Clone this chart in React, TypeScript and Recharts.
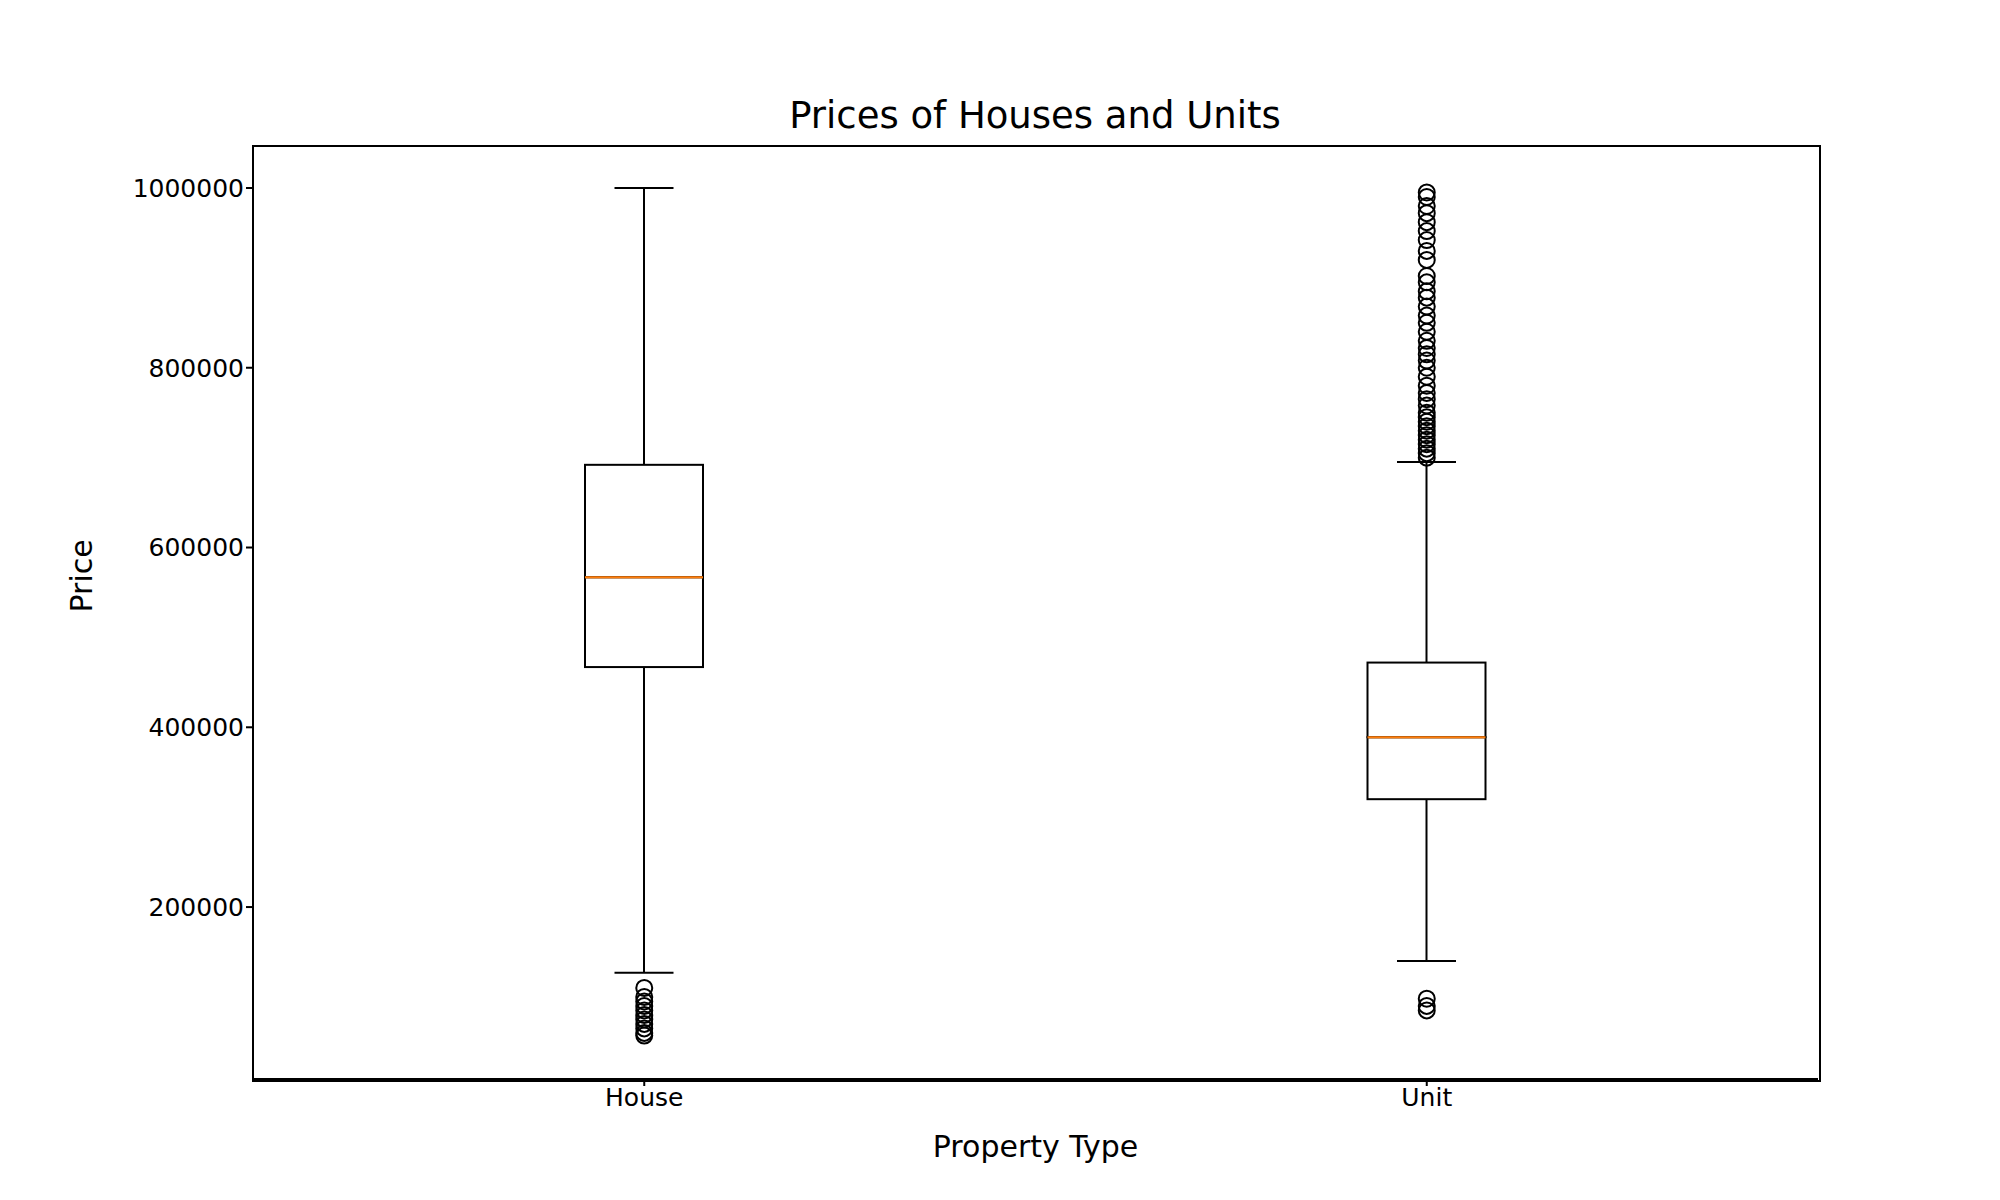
import React from 'react';
import { ComposedChart, Bar, Scatter, XAxis, YAxis } from 'recharts';

const categories = ['House', 'Unit'];
const whiskerLow = [127000, 140000];
const q1 = [467000, 320000];
const median = [567000, 389000];
const q3 = [692000, 472000];
const whiskerHigh = [1000000, 695000];

const houseOutliers = [110000, 100000, 95000, 90000, 85000, 80000, 75000, 70000, 65000, 60000, 57000];
const unitOutliers = [
  98000, 90000, 85000,
  700000, 705000, 710000, 715000, 720000, 725000, 730000, 735000, 740000, 745000, 750000, 758000,
  765000, 772000, 780000, 790000, 800000, 808000, 815000, 822000, 830000, 840000, 850000, 858000,
  868000, 878000, 885000, 895000, 902000, 920000, 930000, 942000, 952000, 962000, 972000, 980000,
  990000, 995000,
];
const yTicks = [200000, 400000, 600000, 800000, 1000000];

const boxData = categories.map((name, i) => ({
  name,
  base: whiskerLow[i],
  lowW: q1[i] - whiskerLow[i],
  boxLow: median[i] - q1[i],
  boxHigh: q3[i] - median[i],
  highW: whiskerHigh[i] - q3[i],
}));

const outlierData = [
  ...houseOutliers.map((price) => ({ name: 'House', price })),
  ...unitOutliers.map((price) => ({ name: 'Unit', price })),
];

const font = 'DejaVu Sans, sans-serif';

const Whisker = (cap: 'top' | 'bottom') => (props: any) => {
  const { x, y, width, height } = props;
  const cx = x + width / 2;
  const capY = cap === 'top' ? y : y + height;
  return (
    <g>
      <line x1={cx} x2={cx} y1={y} y2={y + height} stroke="#000" strokeWidth={2} />
      <line x1={cx - width / 4} x2={cx + width / 4} y1={capY} y2={capY} stroke="#000" strokeWidth={2} />
    </g>
  );
};

const BoxPart = (medianAt: 'top' | 'bottom') => (props: any) => {
  const { x, y, width, height } = props;
  const my = medianAt === 'top' ? y : y + height;
  return (
    <g>
      <rect x={x} y={y} width={width} height={height} fill="none" stroke="#000" strokeWidth={2} />
      <line x1={x} x2={x + width} y1={my} y2={my} stroke="#ff7f0e" strokeWidth={2} />
    </g>
  );
};

const Outlier = (props: any) => (
  <circle cx={props.cx} cy={props.cy} r={8} fill="none" stroke="#000" strokeWidth={2} />
);

export default function App() {
  return (
    <div style={{ position: 'absolute', left: 0, top: 0, width: 2000, height: 1200, background: '#fff', fontFamily: font }}>
      <div style={{ position: 'absolute', top: 94, width: 2070, textAlign: 'center', fontSize: 37 }}>
        Prices of Houses and Units
      </div>
      <ComposedChart
        width={2000}
        height={1200}
        data={boxData}
        margin={{ top: 146, right: 182, bottom: 81, left: 133 }}
      >
        <XAxis
          dataKey="name"
          type="category"
          allowDuplicatedCategory={false}
          stroke="#000"
          strokeWidth={2}
          tickSize={7}
          height={40}
          tick={{ fill: '#000', fontSize: 25, fontFamily: font }}
          label={{ value: 'Property Type', position: 'insideBottom', offset: -38, fill: '#000', fontSize: 30, fontFamily: font }}
        />
        <YAxis
          type="number"
          domain={[8700, 1046700]}
          ticks={yTicks}
          allowDataOverflow
          stroke="#000"
          strokeWidth={2}
          tickSize={7}
          width={120}
          tick={{ fill: '#000', fontSize: 25, fontFamily: font }}
          label={{ value: 'Price', angle: -90, position: 'insideLeft', offset: -52, fill: '#000', fontSize: 30, fontFamily: font }}
        />
        <Bar dataKey="base" stackId="b" fill="none" barSize={118} isAnimationActive={false} />
        <Bar dataKey="lowW" stackId="b" barSize={118} shape={Whisker('bottom')} isAnimationActive={false} />
        <Bar dataKey="boxLow" stackId="b" barSize={118} shape={BoxPart('top')} isAnimationActive={false} />
        <Bar dataKey="boxHigh" stackId="b" barSize={118} shape={BoxPart('bottom')} isAnimationActive={false} />
        <Bar dataKey="highW" stackId="b" barSize={118} shape={Whisker('top')} isAnimationActive={false} />
        <Scatter data={outlierData} dataKey="price" shape={Outlier} isAnimationActive={false} />
      </ComposedChart>
      <div style={{ position: 'absolute', left: 252, top: 145, width: 1565, height: 933, border: '2px solid #000', pointerEvents: 'none' }} />
    </div>
  );
}
